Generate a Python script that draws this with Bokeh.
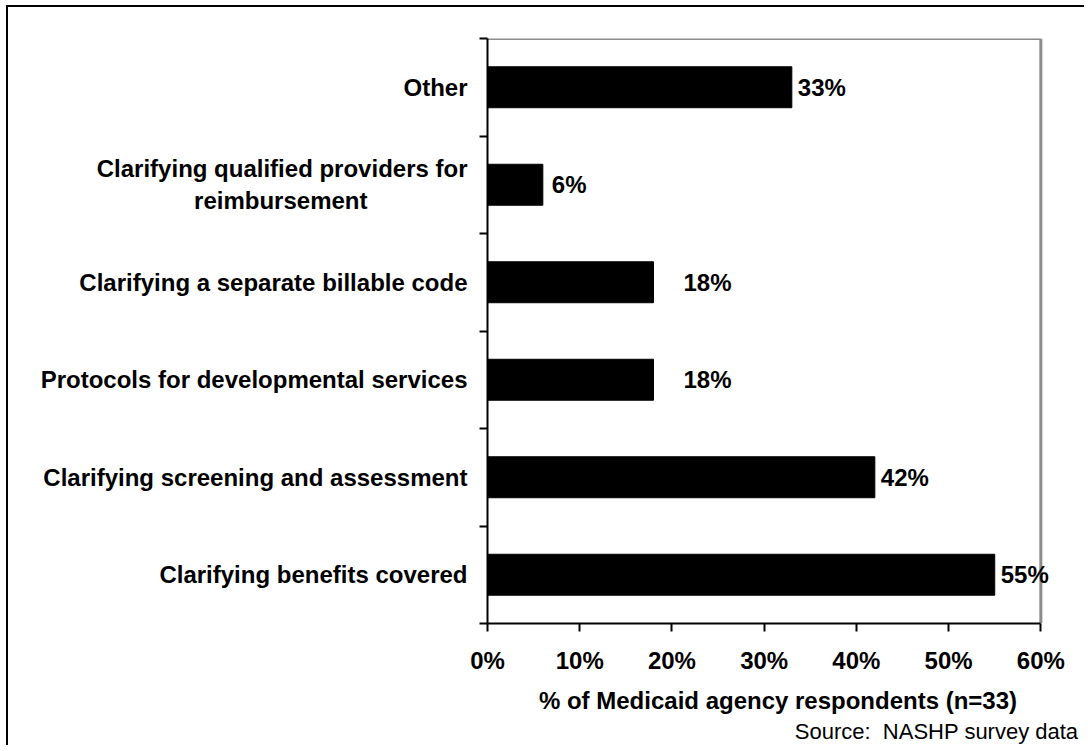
from bokeh.plotting import figure
from bokeh.models import ColumnDataSource, FixedTicker, Title
from bokeh.core.properties import value
from bokeh.embed import file_html
from bokeh.resources import INLINE

# ---- data (bottom to top) ----
NBSP = "\u00a0"
categories = [
    "Clarifying benefits covered",
    "Clarifying screening and assessment",
    "Protocols for developmental services",
    "Clarifying a separate billable code",
    "Clarifying qualified providers for\nreimbursement" + NBSP * 15,
    "Other",
]
percent = [55, 42, 18, 18, 6, 33]
value_labels = ["55%", "42%", "18%", "18%", "6%", "33%"]
x_ticks = [0, 10, 20, 30, 40, 50, 60]
x_tick_labels = ["0%", "10%", "20%", "30%", "40%", "50%", "60%"]
x_max = 60
source_text = "Source: " + NBSP + "NASHP survey data"

# label offsets (style, pixels)
label_pad = [6, 6, 30, 30, 9, 6]

FONT = "Liberation Sans"
FS = "24px"

n = len(categories)
centers = [i + 0.5 for i in range(n)]

src = ColumnDataSource(dict(y=centers, x=percent, lab=value_labels, pad=label_pad))

# frame extends a little past 60% so that value labels are not clipped
p = figure(
    width=1078, height=740,
    x_range=(0, x_max + 3), y_range=(0, n),
    output_backend="svg", toolbar_location=None,
    min_border_left=479, min_border_top=31, min_border_right=18, min_border_bottom=124,
)
p.styles = {"border-left": "2px solid black", "border-top": "2px solid black",
            "margin-left": "6px", "margin-top": "5px"}
p.background_fill_color = "white"
p.border_fill_color = "white"
p.outline_line_color = None
p.xgrid.visible = False
p.ygrid.visible = False

# grey plot-area border (top and right), ending at 60%
p.segment(x0=[0, x_max], y0=[n, 0], x1=[x_max, x_max], y1=[n, n],
          line_color="#8c8c8c", line_width=3)

p.hbar(y="y", right="x", left=0, height=0.42, source=src,
       fill_color="black", line_color="black")

p.text(x="x", y="y", text="lab", source=src, x_offset="pad",
       text_font=value(FONT), text_font_style="bold", text_font_size=FS,
       text_baseline="middle", text_align="left", text_color="black")

# x axis
xa = p.xaxis[0]
xa.bounds = (0, x_max)
xa.ticker = FixedTicker(ticks=x_ticks)
xa.major_label_overrides = {t: l for t, l in zip(x_ticks, x_tick_labels)}
xa.axis_line_width = 2
xa.axis_line_color = "black"
xa.major_tick_line_width = 2
xa.major_tick_line_color = "black"
xa.major_tick_in = 0
xa.major_tick_out = 8
xa.minor_tick_line_color = None
xa.major_label_text_font = FONT
xa.major_label_text_font_style = "bold"
xa.major_label_text_font_size = FS
xa.major_label_text_color = "black"
xa.major_label_standoff = 15
xa.axis_label = "% of Medicaid agency respondents (n=33)"
xa.axis_label_text_font = FONT
xa.axis_label_text_font_style = "bold"
xa.axis_label_text_font_size = FS
xa.axis_label_text_color = "black"
xa.axis_label_standoff = 10

# y axis: labels at band centres, ticks at band boundaries
ya = p.yaxis[0]
ya.ticker = FixedTicker(ticks=centers, minor_ticks=list(range(n + 1)))
ya.major_label_overrides = {c: lab for c, lab in zip(centers, categories)}
ya.axis_line_width = 2
ya.axis_line_color = "black"
ya.major_tick_line_color = None
ya.major_tick_in = 0
ya.major_tick_out = 0
ya.minor_tick_line_width = 2
ya.minor_tick_line_color = "black"
ya.minor_tick_in = 0
ya.minor_tick_out = 8
ya.major_label_text_font = FONT
ya.major_label_text_font_style = "bold"
ya.major_label_text_font_size = FS
ya.major_label_text_color = "black"
ya.major_label_standoff = 12

source_note = Title(text=source_text, align="right", offset=-10,
                    text_font=FONT, text_font_size="22px", text_font_style="normal",
                    text_color="black", standoff=0)
p.add_layout(source_note, "below")

open("out.html", "w").write(file_html(p, INLINE))
